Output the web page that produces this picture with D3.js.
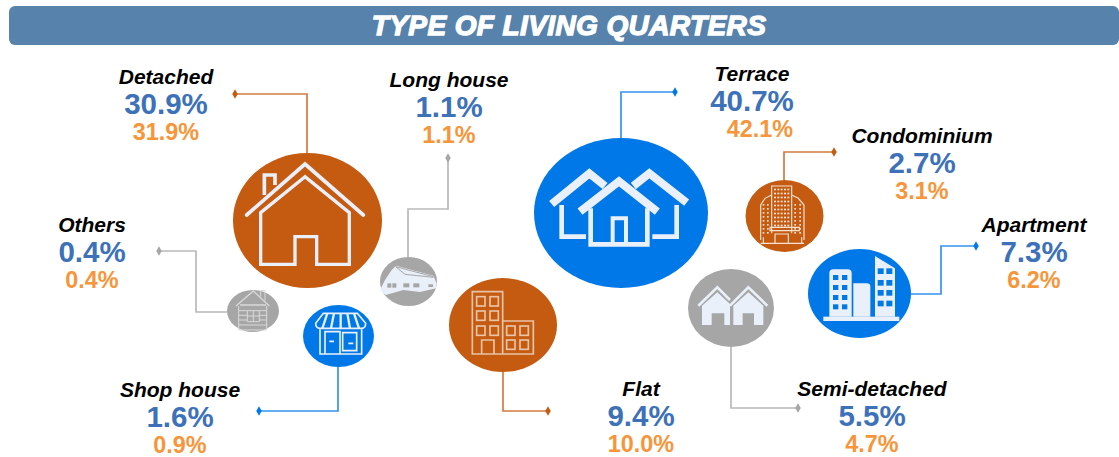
<!DOCTYPE html>
<html>
<head>
<meta charset="utf-8">
<script src="https://cdn.jsdelivr.net/npm/d3@7"></script>
<style>
	html, body { margin: 0; padding: 0; background: #fff; }
	svg { display: block; }
	text { font-family: "Liberation Sans", Arial, sans-serif; text-anchor: middle; }
	.name { font-weight: bold; font-style: italic; font-size: 21px; fill: #000; }
	.v1 { font-weight: bold; font-size: 29.5px; fill: #3d71b8; }
	.v2 { font-weight: bold; font-size: 23.4px; fill: #f7953a; }
	.title { font-weight: bold; font-style: italic; font-size: 28px; letter-spacing: 0.4px; fill: #fff; stroke: #fff; stroke-width: 1.3px; }
</style>
</head>
<body>
<script>
var titleText = 'TYPE OF LIVING QUARTERS';
var categories = ['Detached', 'Long house', 'Terrace', 'Condominium', 'Others', 'Apartment', 'Shop house', 'Flat', 'Semi-detached'];
var blueValues = [30.9, 1.1, 40.7, 2.7, 0.4, 7.3, 1.6, 9.4, 5.5];
var orangeValues = [31.9, 1.1, 42.1, 3.1, 0.4, 6.2, 0.9, 10.0, 4.7];
var bubbleColours = ['brown', 'grey', 'blue', 'brown', 'grey', 'blue', 'blue', 'brown', 'grey'];

var colours = { brown: '#c55a11', grey: '#a6a6a6', blue: '#0078e8' };
var iconLight = '#e9f0f9';

var width = 1119, height = 457;

// where things sit on the page, by category
var layout = {
	'Detached': { cx: 307.5, cy: 220.5, label: [166, 84], leader: [[307, 153], [307, 94], [235, 94]] },
	'Long house': { cx: 408.5, cy: 281.5, label: [449, 87], leader: [[408, 257], [408, 209], [448, 209], [448, 158]] },
	'Terrace': { cx: 621, cy: 213, label: [752, 81], v2dx: 8, leader: [[621, 138], [621, 92], [675, 92]] },
	'Condominium': { cx: 784.5, cy: 216, label: [922, 143], leader: [[784, 180], [784, 152], [834, 152]] },
	'Others': { cx: 253, cy: 311, label: [92, 232], leader: [[227, 312], [196, 312], [196, 251], [159, 251]] },
	'Apartment': { cx: 859.5, cy: 293.5, label: [1034, 232], leader: [[911, 294], [941, 294], [941, 246], [976, 246]] },
	'Shop house': { cx: 338.5, cy: 336, label: [180, 397], leader: [[338, 367], [338, 411], [259, 411]] },
	'Flat': { cx: 503, cy: 325, label: [641, 396], leader: [[503, 371], [503, 411], [548, 411]] },
	'Semi-detached': { cx: 731, cy: 308, label: [872, 396], leader: [[731, 347], [731, 408], [798, 408]] }
};

// bubbles are not true to area in the picture, so the scales go through each value
var sortedValues = blueValues.slice().sort(d3.ascending);
var rx = d3.scaleLinear().domain(sortedValues).range([26, 28.5, 35.5, 39, 43, 51.5, 54, 74.5, 87]);
var ry = d3.scaleLinear().domain(sortedValues).range([21, 24.5, 31, 36, 39, 44.5, 47, 67.5, 75]);

var rows = categories.map(function(name, i) {
	return { name: name, v1: blueValues[i], v2: orangeValues[i], colour: colours[bubbleColours[i]], pos: layout[name] };
});

var svg = d3.select('body').append('svg').attr('width', width).attr('height', height);

svg.append('rect').attr('x', 9).attr('y', 6).attr('width', 1110).attr('height', 39).attr('rx', 6).attr('fill', '#5682ac');
svg.append('text').attr('class', 'title').attr('x', 569).attr('y', 35).text(titleText);

var line = d3.line();

svg.selectAll('path.leader').data(rows).join('path')
	.attr('class', 'leader')
	.attr('d', function(d) { return line(d.pos.leader); })
	.attr('fill', 'none')
	.attr('stroke', function(d) { return d.colour; })
	.attr('stroke-opacity', 0.8)
	.attr('stroke-width', 1.7);

svg.selectAll('path.tip').data(rows).join('path')
	.attr('class', 'tip')
	.attr('d', d3.symbol(d3.symbolDiamond, 26))
	.attr('transform', function(d) {
		var p = d.pos.leader[d.pos.leader.length - 1];
		return 'translate(' + p[0] + ',' + p[1] + ')';
	})
	.attr('fill', function(d) { return d.colour; });

svg.selectAll('ellipse.bubble').data(rows).join('ellipse')
	.attr('class', 'bubble')
	.attr('cx', function(d) { return d.pos.cx; })
	.attr('cy', function(d) { return d.pos.cy; })
	.attr('rx', function(d) { return rx(d.v1); })
	.attr('ry', function(d) { return ry(d.v1); })
	.attr('fill', function(d) { return d.colour; });

var labels = svg.selectAll('g.label').data(rows).join('g')
	.attr('class', 'label')
	.attr('transform', function(d) { return 'translate(' + d.pos.label[0] + ',' + d.pos.label[1] + ')'; });
labels.append('text').attr('class', 'name').text(function(d) { return d.name; });
labels.append('text').attr('class', 'v1').attr('y', 30).text(function(d) { return d.v1.toFixed(1) + '%'; });
labels.append('text').attr('class', 'v2').attr('x', function(d) { return d.pos.v2dx || 0; }).attr('y', 56).text(function(d) { return d.v2.toFixed(1) + '%'; });

// icons are drawn on a 3x grid, centre given in that grid
function icon(name, zx, zy) {
	var p = layout[name];
	return svg.append('g').attr('transform', 'translate(' + p.cx + ',' + p.cy + ') scale(0.3333) translate(' + (-zx) + ',' + (-zy) + ')');
}
function outline(g, d, colour, w) {
	return g.append('path').attr('d', d).attr('fill', 'none').attr('stroke', colour).attr('stroke-width', w).attr('stroke-linejoin', 'miter');
}
function grid(g, xs, ys, w, h, fill, stroke, sw) {
	xs.forEach(function(x) {
		ys.forEach(function(y) {
			g.append('rect').attr('x', x).attr('y', y).attr('width', w).attr('height', h)
				.attr('fill', fill).attr('stroke', stroke).attr('stroke-width', sw);
		});
	});
}

// Detached
var g = icon('Detached', 262.5, 271.5);
outline(g, 'M80,255L255,102L430,255', iconLight, 11).attr('stroke-linecap', 'round');
outline(g, 'M133,195V135H165V165', iconLight, 11);
outline(g, 'M255,140L122,248V403H225V320H290V403H388V248Z', iconLight, 10);

// Terrace
g = icon('Terrace', 303, 249);
outline(g, 'M95,222L208,130L255,168', iconLight, 24);
outline(g, 'M340,168L388,130L500,218', iconLight, 24);
outline(g, 'M125,225V320H198', iconLight, 14);
outline(g, 'M470,225V320H397', iconLight, 14);
outline(g, 'M180,245L297,154L412,245', iconLight, 24);
outline(g, 'M212,235V343H382V235', iconLight, 14);
outline(g, 'M278,343V265H318V343', iconLight, 12);

// Condominium
g = icon('Condominium', 793.5, 258);
var lineBrown = '#f6e2d3';
outline(g, 'M755,310V168H815V310', lineBrown, 3.5);
outline(g, 'M755,195L735,205L722,225V330M815,195L835,205L852,225V330', lineBrown, 3.5);
grid(g, [762, 772, 782, 792, 802], d3.range(176, 286, 12), 6, 5, lineBrown, 'none', 0);
grid(g, [728, 741], d3.range(222, 312, 12), 5, 5, lineBrown, 'none', 0);
grid(g, [823, 838], d3.range(222, 312, 12), 5, 5, lineBrown, 'none', 0);
outline(g, 'M750,292H838V302H750ZM722,340H852M730,322V340M765,340V312H805V340M845,322V340', lineBrown, 3.5);

// Apartment
g = icon('Apartment', 538.5, 160.5);
g.append('path').attr('d', 'M448,230V100Q448,88 460,88H503Q515,88 515,100V230Z').attr('fill', iconLight);
g.append('path').attr('d', 'M520,230V130H560Q571,130 571,140V230Z').attr('fill', iconLight);
g.append('path').attr('d', 'M585,230V48L645,85V230Z').attr('fill', iconLight);
g.append('rect').attr('x', 430).attr('y', 230).attr('width', 228).attr('height', 13).attr('fill', iconLight);
grid(g, [459, 486], [105, 135, 165, 193], 16, 15, colours.blue, 'none', 0);
grid(g, [593, 619], [85, 120, 150, 182], 18, 17, colours.blue, 'none', 0);

// Semi-detached
g = icon('Semi-detached', 153, 204);
g.append('path').attr('d', 'M66,197L112,157L150,192V255H133V220H95V255H66Z').attr('fill', iconLight);
g.append('path').attr('d', 'M160,197L205,157L250,197V255H222V220H188V255H160Z').attr('fill', iconLight);
outline(g, 'M55,197L112,142L150,180', iconLight, 8);
outline(g, 'M150,197L205,142L262,197', iconLight, 8);

// Flat
g = icon('Flat', 849, 135);
var flatLine = '#e8c4a8';
outline(g, 'M757,222V35H848V222ZM848,123H940V222H848M785,222V180H822V222', flatLine, 5);
grid(g, [770, 810], [50, 93, 138], 25, 28, 'none', flatLine, 5);
grid(g, [860, 900], [138, 180], 25, 28, 'none', flatLine, 5);

// Shop house
g = icon('Shop house', 355.5, 168);
outline(g, 'M310,100H412L437,130Q437,145 425,145H300Q287,145 287,130Z', iconLight, 5);
outline(g, 'M322,100L307,145M342,100L333,145M362,100V145M382,100L390,145M402,100L417,145', iconLight, 7);
outline(g, 'M300,148V222H425V148', iconLight, 5);
outline(g, 'M315,222V155H360V222M368,158H410V212H368ZM328,184H342M385,190H400', iconLight, 5);

// Others
g = icon('Others', 99, 93);
var logLine = '#d9d9d9';
outline(g, 'M48,78L100,33L148,78M60,75H138', logLine, 4);
outline(g, 'M56,78V150H140V78M56,92H82M118,92H140M56,106H82M118,106H140M56,120H82M118,120H140M56,135H140M82,92H118V125H82ZM100,92V125M82,108H118', logLine, 3);
outline(g, 'M122,50V32H135V62', logLine, 3);

// Long house
g = icon('Long house', 565.5, 454.5);
g.append('path').attr('d', 'M515,420L528,407L640,437L650,460L648,475L600,486L550,480L497,495L480,480L495,450Z').attr('fill', iconLight);
outline(g, 'M527,410L640,440M527,410L555,433L640,442', colours.grey, 3);
grid(g, [502, 517], [460], 12, 13, colours.grey, 'none', 0);
grid(g, [550, 580], [460], 18, 12, colours.grey, 'none', 0);
grid(g, [625], [463], 14, 8, colours.grey, 'none', 0);
</script>
</body>
</html>
